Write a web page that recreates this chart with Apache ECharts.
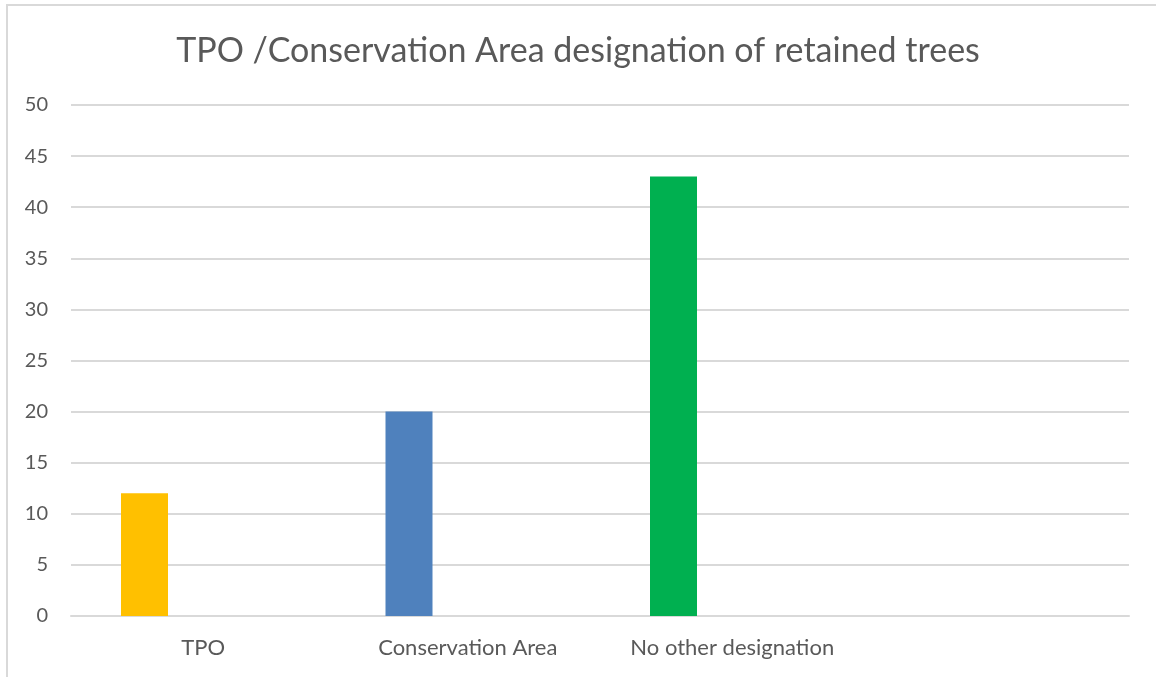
<!DOCTYPE html>
<html>
<head>
<meta charset="utf-8">
<title>TPO /Conservation Area designation of retained trees</title>
<script src="https://cdn.jsdelivr.net/npm/echarts@6/dist/echarts.min.js"></script>
<style>
	html, body { margin: 0; padding: 0; background: #fff; }
	#frame { position: absolute; left: 6px; top: 4px; width: 1200px; height: 720px; border: 2px solid #d9d9d9; }
	#main { position: absolute; left: 0; top: 0; width: 1156px; height: 677px; }
</style>
</head>
<body>
<div id="frame"></div>
<div id="main"></div>
<script>
// 分类
var categories = ['TPO', 'Conservation Area', 'No other designation', ''];
// 数值
var treeCounts = [12, 20, 43, null];
var emptySeries = [null, null, null, null];
var barColors = ['#FFC000', '#4F81BD', '#00B050'];
// y轴刻度
var yMin = 0, yMax = 50, yStep = 5;

var chart = echarts.init(document.getElementById('main'));

var barData = [];
for (var i = 0; i < treeCounts.length; i++) {
	barData.push({
		value: treeCounts[i],
		itemStyle: { color: barColors[i] || '#999' }
	});
}

var option = {
	animation: false,
	backgroundColor: 'transparent',
	title: {
		text: 'TPO /Conservation Area designation of retained trees',
		left: 'center',
		top: 29,
		textStyle: {
			fontFamily: 'Lato',
			fontWeight: 'normal',
			fontSize: 34,
			color: '#595959'
		}
	},
	grid: {
		left: 71,
		right: 27,
		top: 105,
		bottom: 61
	},
	xAxis: {
		type: 'category',
		data: categories,
		axisTick: { show: false },
		axisLine: { lineStyle: { color: '#d9d9d9', width: 2 } },
		axisLabel: {
			interval: 0,
			hideOverlap: false,
			margin: 21,
			fontFamily: 'Lato',
			fontSize: 22,
			color: '#595959'
		}
	},
	yAxis: {
		type: 'value',
		min: yMin,
		max: yMax,
		interval: yStep,
		axisLine: { show: false },
		axisTick: { show: false },
		splitLine: { lineStyle: { color: '#d9d9d9', width: 2 } },
		axisLabel: {
			margin: 23,
			fontFamily: 'Lato',
			fontSize: 20,
			color: '#595959'
		}
	},
	series: [{
		name: 'Trees',
		type: 'bar',
		barWidth: 47,
		barGap: '150%',
		data: barData
	}, {
		name: 'Other',
		type: 'bar',
		barWidth: 47,
		data: emptySeries
	}]
};
chart.setOption(option, true);
</script>
</body>
</html>
